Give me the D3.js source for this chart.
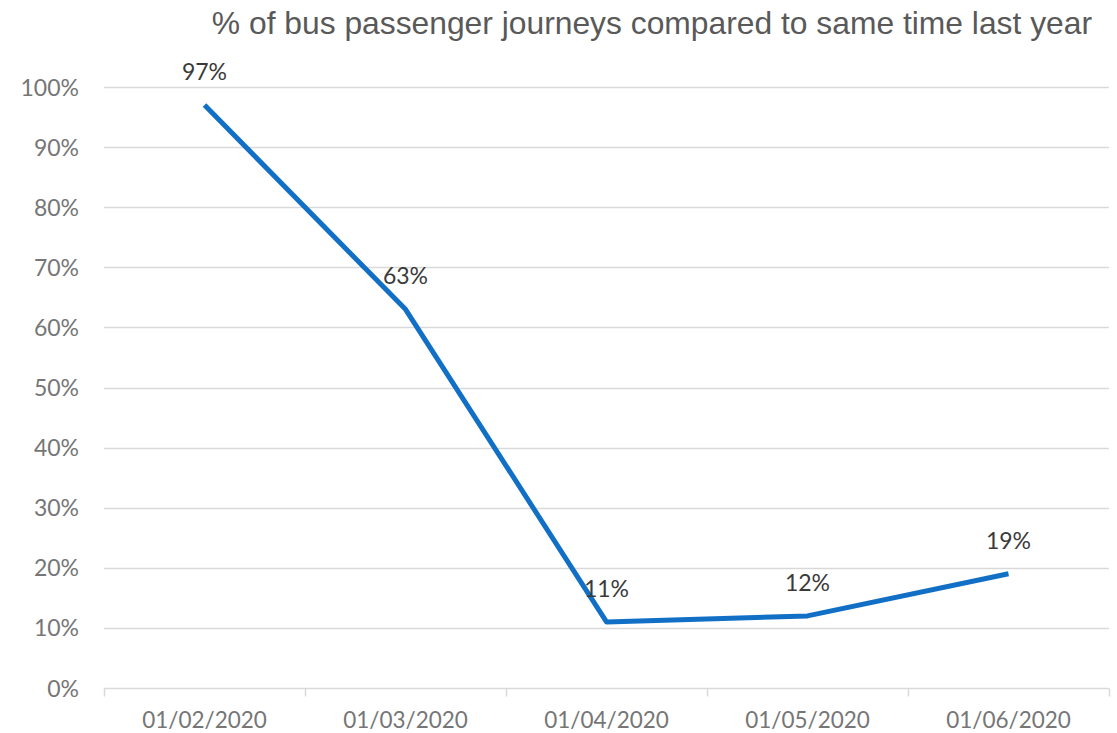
<!DOCTYPE html>
<html>
<head>
<meta charset="utf-8">
<script src="https://cdn.jsdelivr.net/npm/d3@7"></script>
<style>
  html, body { margin: 0; padding: 0; background: #ffffff; }
  svg { display: block; }
</style>
</head>
<body>
<svg id="chart" width="1117" height="733"></svg>
<script>
// Monthly bus passenger journeys as a share of the same period last year
const dates = ["01/02/2020", "01/03/2020", "01/04/2020", "01/05/2020", "01/06/2020"];
const journeyPct = [97, 63, 11, 12, 19];
const yTicks = [0, 10, 20, 30, 40, 50, 60, 70, 80, 90, 100];
const titleText = "% of bus passenger journeys compared to same time last year";

const width = 1117, height = 733;
const margin = { top: 87, right: 8, bottom: 45, left: 104 };
const svg = d3.select("#chart");

const x = d3.scaleBand()
  .domain(dates)
  .range([margin.left, width - margin.right])
  .paddingInner(0).paddingOuter(0);

const y = d3.scaleLinear()
  .domain([0, 100])
  .range([height - margin.bottom, margin.top]);

const labelFont = "Lato, 'Open Sans', sans-serif";

// Horizontal gridlines
svg.append("g")
  .selectAll("line")
  .data(yTicks.filter(d => d > 0))
  .join("line")
  .attr("x1", margin.left)
  .attr("x2", width - margin.right)
  .attr("y1", d => Math.round(y(d)) + 0.5)
  .attr("y2", d => Math.round(y(d)) + 0.5)
  .attr("stroke", "#d9d9d9")
  .attr("stroke-width", 1.5);

// Y axis labels
const yAxis = d3.axisLeft(y)
  .tickValues(yTicks)
  .tickFormat(d => d + "%")
  .tickSize(0)
  .tickPadding(0);
svg.append("g")
  .attr("transform", `translate(${margin.left - 25},0)`)
  .call(yAxis)
  .call(g => g.select(".domain").remove())
  .call(g => g.selectAll("text")
    .attr("fill", "#767676")
    .attr("font-family", labelFont)
    .attr("font-size", 23)
    .attr("dy", "0.35em"));

// X axis: baseline with tick marks at category boundaries
const xBase = Math.round(y(0)) + 0.5;
const gx = svg.append("g");
gx.append("line")
  .attr("x1", margin.left).attr("x2", width - margin.right)
  .attr("y1", xBase).attr("y2", xBase)
  .attr("stroke", "#d9d9d9").attr("stroke-width", 1.5);
const boundaries = dates.map(d => x(d)).concat([x(dates[dates.length - 1]) + x.bandwidth()]);
gx.selectAll("line.tick")
  .data(boundaries)
  .join("line")
  .attr("class", "tick")
  .attr("x1", d => Math.round(d) + 0.5).attr("x2", d => Math.round(d) + 0.5)
  .attr("y1", xBase).attr("y2", xBase + 8)
  .attr("stroke", "#d9d9d9").attr("stroke-width", 1.5);
gx.selectAll("text")
  .data(dates)
  .join("text")
  .attr("x", d => x(d) + x.bandwidth() / 2)
  .attr("y", 728)
  .attr("text-anchor", "middle")
  .attr("fill", "#767676")
  .attr("font-family", labelFont)
  .attr("font-size", 22.5)
  .text(d => d);

// Series line
const cx = d => x(d) + x.bandwidth() / 2;
const line = d3.line()
  .x((d, i) => cx(dates[i]))
  .y(d => y(d));
svg.append("path")
  .datum(journeyPct)
  .attr("d", line)
  .attr("fill", "none")
  .attr("stroke", "#1170c6")
  .attr("stroke-width", 5)
  .attr("stroke-linejoin", "round");

// Data labels
svg.append("g")
  .selectAll("text")
  .data(journeyPct)
  .join("text")
  .attr("x", (d, i) => cx(dates[i]))
  .attr("y", d => y(d) - 25)
  .attr("text-anchor", "middle")
  .attr("fill", "#3a3a3a")
  .attr("font-family", labelFont)
  .attr("font-size", 23)
  .text(d => d + "%");

// Title
svg.append("text")
  .attr("x", 1092)
  .attr("y", 34)
  .attr("text-anchor", "end")
  .attr("fill", "#595959")
  .attr("font-family", "'Liberation Sans', Arial, sans-serif")
  .attr("font-size", 31.8)
  .text(titleText);
</script>
</body>
</html>
